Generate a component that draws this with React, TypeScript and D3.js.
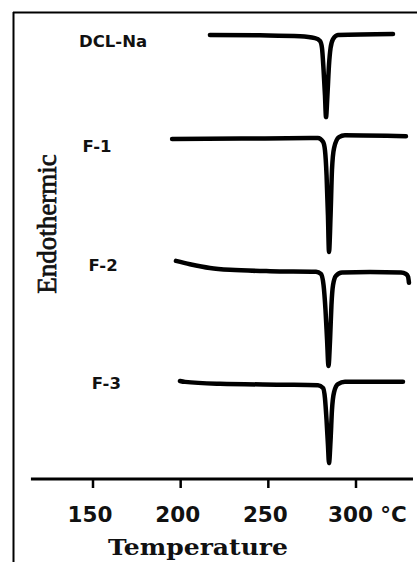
import React from "react";
import * as d3 from "d3";

const W = 417;
const H = 562;

// Temperature ticks (°C)
const tickValues = [150, 200, 250, 300];
const tickLabels = ["150", "200", "250", "300 °C"];
const axisExtent = [114.6, 332.5];

// DSC thermograms: temperature (°C) and relative heat-flow signal
const dclTemp = [216.7, 245.2, 268.1, 276.6, 279.5, 280.6, 281.5, 282.3, 282.9, 283.7, 284.6, 285.5, 286.9, 289.7, 321.1];
const dclFlow = [95.1, 95.0, 94.8, 94.4, 93.8, 92.3, 87.6, 82.2, 77.5, 82.2, 88.7, 92.3, 94.2, 95.1, 95.3];

const f1Temp = [195.1, 239.5, 278.3, 281.2, 282.3, 283.2, 284.0, 284.6, 285.5, 286.3, 287.5, 290.3, 293.7, 328.5];
const f1Flow = [72.8, 72.9, 73.0, 72.2, 70.4, 65.1, 56.5, 48.6, 56.5, 66.2, 70.9, 73.2, 73.6, 73.4];

const f2Temp = [197.3, 205.3, 216.7, 228.1, 251.0, 277.2, 280.0, 281.5, 282.6, 283.5, 284.3, 285.2, 286.0, 286.9, 288.6, 292.0, 308.0, 325.7, 328.5, 329.7, 330.2];
const f2Flow = [46.7, 46.0, 45.2, 44.8, 44.5, 44.4, 43.9, 41.5, 36.2, 29.8, 24.2, 29.8, 37.3, 41.5, 43.5, 44.2, 44.3, 44.2, 43.9, 43.3, 42.0];

const f3Temp = [199.6, 202.5, 222.4, 256.7, 278.3, 281.2, 282.3, 283.2, 284.0, 284.6, 285.5, 286.3, 287.5, 289.7, 293.7, 326.8];
const f3Flow = [21.0, 20.8, 20.4, 20.2, 20.1, 19.5, 17.3, 12.6, 7.3, 3.4, 8.4, 14.8, 18.6, 20.3, 20.8, 20.8];

const seriesNames = ["DCL-Na", "F-1", "F-2", "F-3"];
const seriesTemps = [dclTemp, f1Temp, f2Temp, f3Temp];
const seriesFlows = [dclFlow, f1Flow, f2Flow, f3Flow];
const labelTemps = [142, 144, 147.5, 149.3];
const labelFlows = [93.8, 71.4, 45.9, 20.6];

export default function App() {
  const x = d3.scaleLinear().domain([150, 300]).range([93, 356]);
  const y = d3.scaleLinear().domain([0, 100]).range([479, 12]);
  const axisY = y(0);

  const line = d3
    .line<[number, number]>()
    .x((d) => x(d[0]))
    .y((d) => y(d[1]))
    .curve(d3.curveMonotoneX);

  return (
    <svg
      width={W}
      height={H}
      style={{ position: "absolute", left: 0, top: 0, background: "#fff" }}
    >
      {/* frame */}
      <line x1={13} y1={12.5} x2={W} y2={12.5} stroke="#000" strokeWidth={2} />
      <line x1={13.5} y1={12} x2={13.5} y2={H} stroke="#000" strokeWidth={2} />

      {/* x axis */}
      <line
        x1={x(axisExtent[0])}
        x2={x(axisExtent[1])}
        y1={axisY}
        y2={axisY}
        stroke="#000"
        strokeWidth={3}
      />
      {tickValues.map((t, i) => (
        <g key={t}>
          <line x1={x(t)} x2={x(t)} y1={axisY} y2={axisY + 9} stroke="#000" strokeWidth={2.5} />
          <text
            x={i === 3 ? x(t) - 28 : x(t) - 3}
            y={axisY + 43}
            textAnchor={i === 3 ? "start" : "middle"}
            fontFamily="'DejaVu Sans', Verdana, sans-serif"
            fontWeight="bold"
            fontSize={21.5}
            fill="#111"
          >
            {tickLabels[i]}
          </text>
        </g>
      ))}
      <text
        x={108}
        y={555}
        textLength={180}
        lengthAdjust="spacingAndGlyphs"
        fontFamily="'DejaVu Serif', serif"
        fontWeight="bold"
        fontSize={22}
        fill="#111"
      >
        Temperature
      </text>

      {/* y label */}
      <text
        transform={`translate(56, 224) rotate(-90)`}
        textAnchor="middle"
        fontFamily="'Liberation Serif', 'Times New Roman', serif"
        fontSize={27}
        fill="#111"
        stroke="#111"
        strokeWidth={0.7}
      >
        Endothermic
      </text>

      {/* curves */}
      {seriesNames.map((name, i) => {
        const pts = seriesTemps[i].map((t, j) => [t, seriesFlows[i][j]] as [number, number]);
        return (
          <g key={name}>
            <path
              d={line(pts) || ""}
              fill="none"
              stroke="#000"
              strokeWidth={4.5}
              strokeLinejoin="round"
              strokeLinecap="round"
            />
            <text
              x={x(labelTemps[i])}
              y={y(labelFlows[i]) + 6}
              fontFamily="'DejaVu Sans', Verdana, sans-serif"
              fontWeight="bold"
              fontSize={16.5}
              fill="#111"
            >
              {name}
            </text>
          </g>
        );
      })}
    </svg>
  );
}
